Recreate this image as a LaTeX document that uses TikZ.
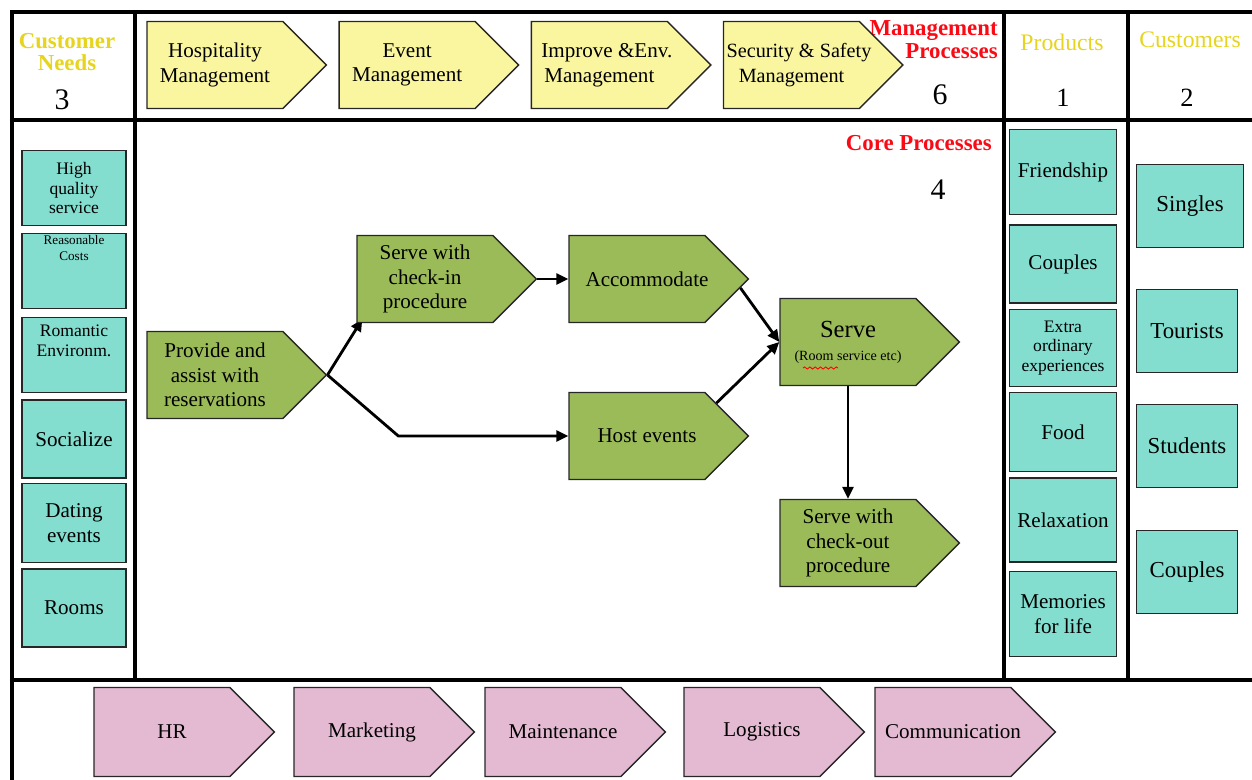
\documentclass[tikz,border=0pt]{standalone}
\usepackage{fontspec}
\setmainfont{Liberation Serif}
\usetikzlibrary{arrows.meta,positioning,calc,shapes.symbols,decorations.pathmorphing,backgrounds}
\definecolor{needteal}{RGB}{132,222,208}
\definecolor{mgmtyellow}{RGB}{250,246,160}
\definecolor{coregreen}{RGB}{155,187,89}
\definecolor{supportpink}{RGB}{228,186,211}
\definecolor{headyellow}{RGB}{230,212,30}
\definecolor{headred}{RGB}{250,10,20}
\newcommand\steptext[1]{\makebox[\linewidth]{\hspace{0.4cm}#1}}

\begin{document}
\begin{tikzpicture}[x=0.02cm, y=-0.02cm,
  frame/.style={line width=2.3pt},
  tealbox/.style={draw=black!85, line width=1pt, fill=needteal, align=center,
                  inner sep=1pt, font=\fontsize{12}{14}\selectfont},
  needbox/.style={tealbox, minimum width=2.08cm},
  prodbox/.style={tealbox, minimum width=2.14cm},
  custbox/.style={tealbox, minimum width=2.02cm, minimum height=1.66cm,
                  font=\fontsize{13}{15}\selectfont},
  procstep/.style={signal, signal to=east, signal pointer angle=90, draw=black!85,
                   line width=0.8pt, align=flush center, text width=2.6cm, inner xsep=0.06cm,
                   minimum height=1.74cm, font=\fontsize{12}{14}\selectfont},
  mgmtstep/.style={procstep, fill=mgmtyellow},
  corestep/.style={procstep, fill=coregreen},
  supstep/.style={procstep, fill=supportpink, minimum height=1.78cm},
  heading/.style={font=\fontsize{13}{13}\selectfont\bfseries, align=center, inner sep=0pt},
  colno/.style={font=\fontsize{17}{19}\selectfont, inner sep=0pt},
  arr/.style={-{Triangle[length=2.4mm,width=2.2mm]}, line width=1.6pt},
  node distance=0.22cm
]
\useasboundingbox (0,0) rectangle (1252,780);

\draw[frame] (1256,12) -- (12,12) -- (12,784);
\draw[frame] (12,120) -- (1256,120);
\draw[frame] (12,680) -- (1256,680);
\draw[frame] (135,12) -- (135,680);
\draw[frame] (1004,12) -- (1004,680);
\draw[frame] (1128,12) -- (1128,680);

\node[heading, text=headyellow] (needtitle) at (67,52) {Customer\\Needs};
\node[colno] (needno) at (62,100) {3};
\node[heading, text=headred, align=right, anchor=north east] (mgmttitle) at (998,20) {Management\\Processes};
\node[colno] (mgmtno) at (940,95) {6};
\node[heading, text=headyellow, font=\fontsize{13.5}{13}\selectfont] (prodtitle) at (1062,42) {Products};
\node[colno, font=\fontsize{15}{17}\selectfont] (prodno) at (1063,98) {1};
\node[heading, text=headyellow, font=\fontsize{13.5}{13}\selectfont] (custtitle) at (1190,40) {Customers};
\node[colno, font=\fontsize{15}{17}\selectfont] (custno) at (1187,98) {2};
\node[heading, text=headred, anchor=east] (coretitle) at (992,143) {Core Processes};
\node[colno] (coreno) at (938,190) {4};

\node[mgmtstep] (mgmthosp) at (215,65) {Hospitality\\Management};
\node[mgmtstep, right=of mgmthosp] (mgmtevent) {Event\\Management};
\node[mgmtstep, right=of mgmtevent] (mgmtenv) {\makebox[\linewidth]{\hspace{0.3cm}Improve \&Env.}\\Management};
\node[mgmtstep, right=of mgmtenv, font=\fontsize{11.5}{14}\selectfont] (mgmtsafety)
  {\makebox[\linewidth]{\hspace{0.3cm}Security \& Safety}\\Management};

\node[needbox, minimum height=1.5cm, font=\fontsize{10}{11}\selectfont] (needquality) at (74,188) {High\\quality\\service};
\node[needbox, minimum height=1.5cm] (needcosts) at (74,271)
  {\parbox[c][1.42cm][t]{2cm}{\centering\fontsize{7.5}{9}\selectfont Reasonable\\Costs}};
\node[needbox, minimum height=1.5cm] (needromance) at (74,355)
  {\parbox[c][1.42cm][t]{2cm}{\centering\fontsize{10}{11.5}\selectfont\vspace*{3pt}Romantic\\Environm.}};
\node[needbox, minimum height=1.56cm] (needsocial) at (74,439) {Socialize};
\node[needbox, minimum height=1.58cm] (needdating) at (74,523) {Dating\\events};
\node[needbox, minimum height=1.56cm] (needrooms) at (74,608) {Rooms};

\node[corestep] (resv) at (215,375) {Provide and\\assist with\\reservations};
\node[corestep] (checkin) at (425,279) {Serve with\\check-in\\procedure};
\node[corestep] (accom) at (637,279) {\steptext{Accommodate}};
\node[corestep] (host) at (637,436) {\steptext{Host events}};
\node[corestep] (serve) at (848,342) {{\fontsize{14}{16}\selectfont Serve}\\[-1pt]{\fontsize{8}{9}\selectfont (Room service etc)}};
\node[corestep] (checkout) at (848,543) {Serve with\\check-out\\procedure};

\draw[red, line width=0.5pt, decorate, decoration={snake, amplitude=0.6pt, segment length=3pt}]
  ($(serve.center)+(-45,26)$) -- ($(serve.center)+(-10,26)$);

\begin{scope}[on background layer]
\draw[arr] (resv.east) -- ($(checkin.south west)+(6,-4)$);
\end{scope}
\draw[arr] (resv.east) -- ([xshift=-3.4cm]host.west) -- (host.west);
\draw[arr] (checkin.east) -- (accom.west);
\draw[arr] ($(accom.east)+(-9,9)$) -- (serve.west);
\draw[arr] ($(host.east)+(-33,-33)$) -- (serve.west);
\draw[arr] (serve.south) -- (checkout.north);

\node[prodbox, minimum height=1.7cm] (prodfriend) at (1063,172) {Friendship};
\node[prodbox, minimum height=1.56cm] (prodcouples) at (1063,264) {Couples};
\node[prodbox, minimum height=1.54cm, font=\fontsize{10}{11}\selectfont] (prodextra) at (1063,348) {Extra\\ordinary\\experiences};
\node[prodbox, minimum height=1.58cm] (prodfood) at (1063,432) {Food};
\node[prodbox, minimum height=1.68cm] (prodrelax) at (1063,520) {Relaxation};
\node[prodbox, minimum height=1.7cm] (prodmemories) at (1063,614) {Memories\\for life};

\node[custbox, minimum width=2.14cm] (custsingles) at (1190,206) {Singles};
\node[custbox] (custtourists) at (1187,331) {Tourists};
\node[custbox] (custstudents) at (1187,446) {Students};
\node[custbox] (custcouples) at (1187,572) {Couples};

\node[supstep] (hr) at (162,732) {\steptext{HR}};
\node[supstep] (marketing) at (362,732) {\steptext{Marketing}};
\node[supstep] (maintenance) at (553,732) {\steptext{Maintenance}};
\node[supstep] (logistics) at (752,732) {\steptext{Logistics}};
\node[supstep] (comm) at (943,732) {\steptext{Communication}};
\end{tikzpicture}
\end{document}
